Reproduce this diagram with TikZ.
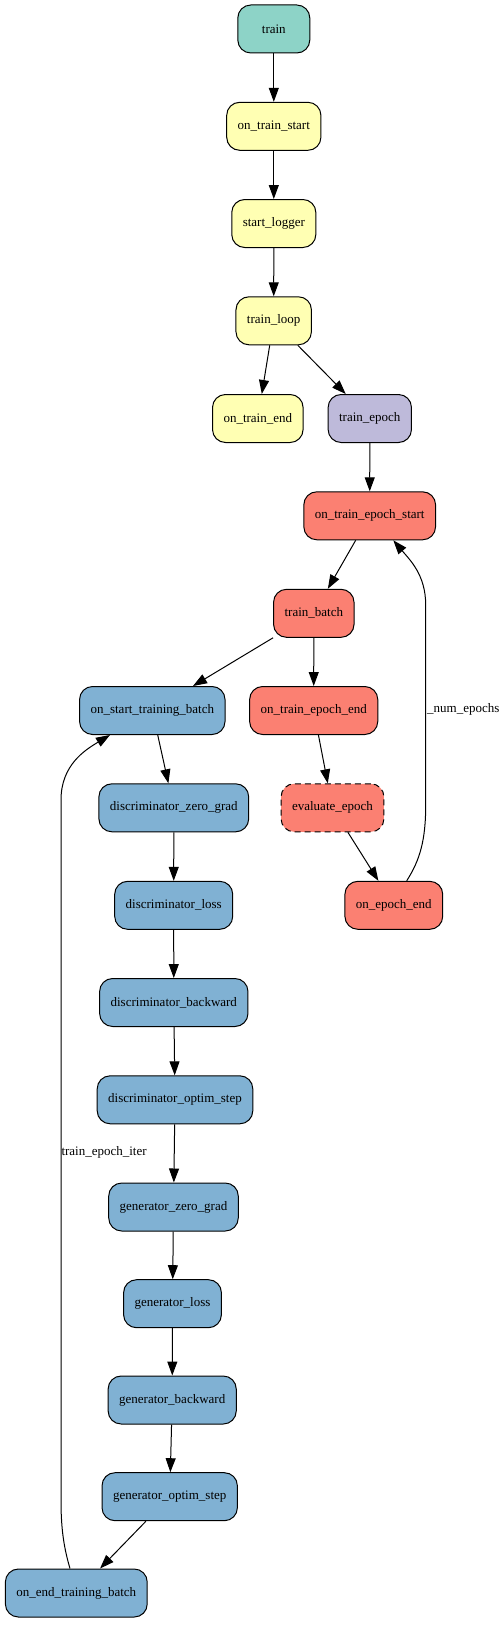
\documentclass[tikz,border=0pt]{standalone}
\usepackage{fontspec}
\setmainfont{Liberation Serif}
\usepackage{tikz}
\usetikzlibrary{arrows.meta}

\definecolor{tealc}{HTML}{8DD3C7}
\definecolor{yellowc}{HTML}{FFFFB3}
\definecolor{lilac}{HTML}{BEBADA}
\definecolor{salmon}{HTML}{FB8072}
\definecolor{bluec}{HTML}{80B1D3}

\tikzset{
  stage/.style={shape=rectangle, draw, line width=1pt, rounded corners=13pt,
    minimum width=72pt, minimum height=48pt, inner xsep=11pt,
    font=\fontsize{13}{15}\selectfont},
  lbl/.style={anchor=west, inner sep=0pt, font=\fontsize{13}{15}\selectfont}
}

\begin{document}
\begin{tikzpicture}[x=1pt, y=-1pt, >={Triangle[length=14pt,width=10pt]}, line width=1pt]
                        \useasboundingbox (0,0) rectangle (503,1627);

                        \node[fill=tealc] (train) at (273.8,29) [stage] {train};
                        \node[fill=yellowc] (tstart) at (273.8,126.3) [stage] {on\_train\_start};
                        \node[fill=yellowc] (logger) at (273.8,223.5) [stage] {start\_logger};
                        \node[fill=yellowc] (loop) at (273.7,320.8) [stage] {train\_loop};
                        \node[fill=yellowc] (tend) at (257.8,418.5) [stage] {on\_train\_end};
                        \node[fill=lilac] (epoch) at (369.8,418.5) [stage] {train\_epoch};
                        \node[fill=salmon] (estart) at (369.7,515.8) [stage] {on\_train\_epoch\_start};
                        \node[fill=salmon] (batch) at (313.8,613.3) [stage] {train\_batch};
                        \node[fill=bluec] (bstart) at (152.3,710.5) [stage] {on\_start\_training\_batch};
                        \node[fill=salmon] (eend) at (313.7,710.5) [stage] {on\_train\_epoch\_end};
                        \node[fill=bluec] (dzero) at (173.8,807.8) [stage] {discriminator\_zero\_grad};
                        \node[fill=salmon] (evalep) at (332.5,807.8) [stage, dash pattern=on 6pt off 4pt] {evaluate\_epoch};
                        \node[fill=bluec] (dloss) at (173.7,905.3) [stage] {discriminator\_loss};
                        \node[fill=salmon] (epend) at (393.8,905.3) [stage] {on\_epoch\_end};
                        \node[fill=bluec] (dback) at (173.8,1002.5) [stage] {discriminator\_backward};
                        \node[fill=bluec] (dstep) at (175,1099.8) [stage] {discriminator\_optim\_step};
                        \node[fill=bluec] (gzero) at (173.5,1207) [stage] {generator\_zero\_grad};
                        \node[fill=bluec] (gloss) at (172.5,1303.7) [stage] {generator\_loss};
                        \node[fill=bluec] (gback) at (172.2,1400) [stage] {generator\_backward};
                        \node[fill=bluec] (gstep) at (169.7,1496.7) [stage] {generator\_optim\_step};
                        \node[fill=bluec] (bend) at (76.3,1593) [stage] {on\_end\_training\_batch};

                        \node (numlbl) at (426.7,709) [lbl] {\_num\_epochs};
                        \node (iterlbl) at (61,1152.7) [lbl] {train\_epoch\_iter};

                        \path	[->]	(train)	edge	(tstart)
                        (tstart)	edge	(logger)
                        (logger)	edge	(loop)
                        (loop)	edge	(tend)
                        edge	(epoch)
                        (epoch)	edge	(estart)
                        (estart)	edge	(batch)
                        (batch)	edge	(bstart)
                        edge	(eend)
                        (eend)	edge	(evalep)
                        (evalep)	edge	(epend)
                        (bstart)	edge	(dzero)
                        (dzero)	edge	(dloss)
                        (dloss)	edge	(dback)
                        (dback)	edge	(dstep)
                        (dstep)	edge	(gzero)
                        (gzero)	edge	(gloss)
                        (gloss)	edge	(gback)
                        (gback)	edge	(gstep)
                        (gstep)	edge	(bend);

                        % loops back
                        \draw[->] ([xshift=12.9pt]epend.north) .. controls (420,860) and (425.7,840) .. (425.7,805)
                        -- (425.7,605) .. controls (425.7,575) and (410,560) .. ([xshift=23.6pt]estart.south);
                        \draw[->] ([xshift=-6.3pt]bend.north) .. controls (63,1545) and (61,1525) .. (61,1500)
                        -- (61,800) .. controls (61,765) and (85,750) .. ([xshift=-42.3pt]bstart.south);
                    \end{tikzpicture}
\end{document}
